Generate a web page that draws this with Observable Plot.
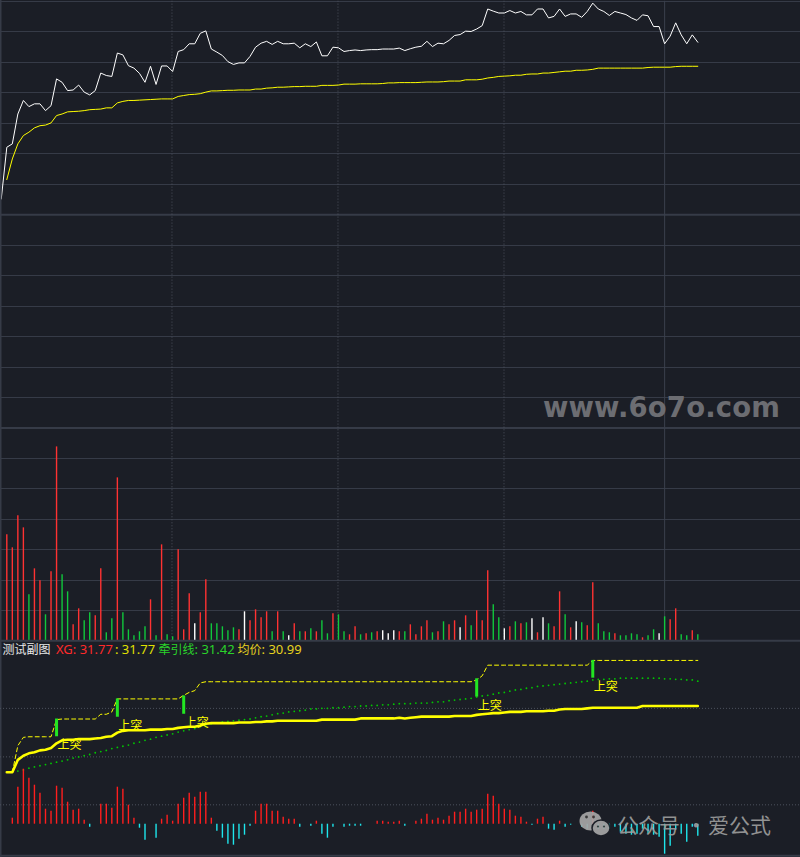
<!DOCTYPE html>
<html>
<head>
<meta charset="utf-8">
<script src="https://cdn.jsdelivr.net/npm/d3@7"></script>
<script src="https://cdn.jsdelivr.net/npm/@observablehq/plot@0.6"></script>
<style>
  html, body { margin:0; padding:0; background:#1b1e26; }
  #chart { position:relative; width:800px; height:857px; overflow:hidden; background:#1b1e26; }
  .hdr { position:absolute; top:640px; height:18px; font-size:13px; line-height:18px;
         font-family:"Noto Sans","Noto Sans CJK SC",sans-serif; white-space:pre; }
  .hdr .cjk { font-family:"Noto Sans CJK SC",sans-serif; font-size:12px; }
</style>
</head>
<body>
<div id="chart"></div>
<script>
// ---------------- data ----------------
const prevClose = 26.18;          // 昨收
const halfRange = 6.93;           // price scale half range
const openPrice = 26.69;          // first tick (before bar 0)

const closePrice = [28.37,28.48,29.45,29.89,29.69,29.78,29.78,29.56,29.72,30.59,
30.48,30.21,30.23,30.39,30.16,30.07,30.21,30.78,30.70,30.67,
31.43,31.37,31.02,30.94,30.77,30.48,31.00,30.41,31.01,31.01,
30.83,31.48,31.54,31.73,31.73,32.07,32.15,31.56,31.46,31.35,
31.15,31.06,31.11,31.11,31.32,31.62,31.75,31.81,31.71,31.81,
31.73,31.73,31.75,31.60,31.73,31.64,31.79,31.34,31.34,31.62,
31.60,31.48,31.51,31.53,31.51,31.53,31.54,31.54,31.56,31.56,
31.56,31.59,31.51,31.57,31.62,31.65,31.81,31.64,31.75,31.73,
31.84,32.00,32.03,32.14,32.13,32.21,32.32,32.86,32.79,32.73,
32.73,32.81,32.73,32.78,32.67,32.67,32.86,32.86,32.57,32.62,
32.86,32.62,32.70,32.70,32.59,32.78,33.05,32.86,32.78,32.65,
32.78,32.73,32.68,32.57,32.49,32.67,32.64,32.29,32.29,31.73,
31.98,32.41,32.02,31.73,32.02,31.78];

const avgPrice = [27.32,27.99,28.48,28.75,28.86,29.00,29.07,29.09,29.16,29.40,
29.45,29.52,29.53,29.54,29.56,29.59,29.60,29.61,29.65,29.65,
29.81,29.86,29.89,29.89,29.90,29.91,29.92,29.93,29.94,29.94,
29.94,30.02,30.05,30.08,30.09,30.11,30.16,30.20,30.20,30.21,
30.22,30.22,30.23,30.23,30.23,30.26,30.26,30.29,30.30,30.32,
30.32,30.33,30.34,30.34,30.35,30.35,30.35,30.38,30.38,30.38,
30.39,30.42,30.42,30.42,30.43,30.43,30.43,30.43,30.44,30.46,
30.46,30.47,30.47,30.47,30.47,30.48,30.49,30.49,30.49,30.50,
30.52,30.52,30.52,30.56,30.56,30.56,30.58,30.62,30.64,30.67,
30.68,30.69,30.71,30.71,30.74,30.75,30.75,30.78,30.78,30.80,
30.82,30.84,30.84,30.87,30.87,30.88,30.90,30.94,30.94,30.94,
30.94,30.94,30.94,30.94,30.94,30.94,30.96,30.97,30.97,30.97,
30.97,30.99,31.00,31.00,31.00,31.00];

const volume = [5300,4650,6250,5650,2300,3600,3000,1300,3450,9700,
3300,2450,800,1600,1000,1400,1250,3600,400,1100,
8150,1400,550,250,450,700,2050,250,4800,300,
200,4550,550,2350,850,1400,3050,850,850,700,
500,650,550,1450,1000,1550,1150,1450,450,1450,
450,250,850,450,450,600,450,1000,350,1350,
1300,450,300,700,300,350,400,450,500,350,
500,450,450,800,300,700,1000,400,450,950,
800,1000,650,1250,750,1500,1000,3500,1800,1150,
600,700,950,850,900,1100,400,1150,850,700,
2450,1300,650,950,900,750,2900,850,450,400,
350,250,250,350,300,150,250,550,350,1200,
1050,1600,300,250,500,300];
const volMax = 10640;
// R = up (red), G = down (green), W = unchanged (white)
const volDir = ("RRRRGRRGRR" + "GGRRGGRRGG" + "RGGGGGRGRG" + "GRRRWRRGGG" + "GGRWRRRRGR" +
                "GWRGRGRGGR" + "GGRRGRGRWW" + "WRGRRRRGRG" + "RRWRGRRRGG" + "WRGRGWRWGR" +
                "RGRWGRRGGG" + "RGGGGRGGWG" + "RRGGRG").split("");

// 测试副图 indicator
const indAvg = [29.87,29.87,30.08,30.15,30.19,30.21,30.24,30.25,30.28,30.36,
30.41,30.42,30.42,30.43,30.43,30.43,30.44,30.45,30.47,30.48,
30.54,30.57,30.58,30.58,30.58,30.58,30.59,30.59,30.59,30.60,
30.60,30.62,30.63,30.64,30.64,30.66,30.69,30.70,30.70,30.70,
30.70,30.70,30.71,30.71,30.71,30.72,30.72,30.73,30.73,30.74,
30.74,30.74,30.74,30.74,30.74,30.74,30.74,30.76,30.76,30.76,
30.76,30.76,30.76,30.76,30.78,30.78,30.78,30.78,30.78,30.78,
30.78,30.79,30.78,30.79,30.80,30.81,30.81,30.81,30.81,30.81,
30.81,30.82,30.82,30.82,30.82,30.84,30.85,30.86,30.87,30.87,
30.88,30.89,30.89,30.89,30.90,30.90,30.90,30.90,30.91,30.91,
30.93,30.94,30.94,30.94,30.94,30.95,30.96,30.96,30.96,30.96,
30.96,30.96,30.96,30.96,30.96,30.99,30.99,30.99,30.99,30.99,
30.99,30.99,30.99,30.99,30.99,30.99];

// dashed line, bars 1..125
const xgLine = [29.87,30.32,30.46,30.47,30.47,30.47,30.47,30.47,30.76,30.77,
30.77,30.77,30.77,30.77,30.77,30.77,30.85,30.85,30.89,31.11,
31.11,31.11,31.11,31.11,31.11,31.11,31.11,31.11,31.11,31.11,
31.11,31.17,31.22,31.25,31.38,31.40,31.40,31.40,31.40,31.40,
31.40,31.40,31.40,31.40,31.40,31.40,31.40,31.40,31.40,31.40,
31.40,31.40,31.40,31.40,31.40,31.40,31.40,31.40,31.40,31.40,
31.40,31.40,31.40,31.40,31.40,31.40,31.40,31.40,31.40,31.40,
31.40,31.40,31.40,31.40,31.40,31.40,31.40,31.40,31.40,31.40,
31.40,31.40,31.40,31.40,31.43,31.50,31.68,31.68,31.68,31.68,
31.68,31.68,31.68,31.68,31.68,31.68,31.68,31.68,31.68,31.68,
31.68,31.68,31.68,31.68,31.68,31.76,31.76,31.76,31.76,31.76,
31.76,31.76,31.76,31.76,31.76,31.76,31.76,31.76,31.76,31.76,
31.76,31.76,31.76,31.76,31.76];

// 牵引线, bars 2..125
const traction = [29.89,29.91,29.94,29.96,29.98,30.00,30.02,30.04,
30.06,30.08,30.11,30.13,30.15,30.17,30.20,30.22,30.24,30.27,
30.29,30.31,30.33,30.36,30.38,30.41,30.43,30.46,30.48,30.50,
30.52,30.55,30.57,30.59,30.61,30.64,30.67,30.69,30.70,30.72,
30.73,30.74,30.75,30.76,30.77,30.79,30.81,30.82,30.84,30.86,
30.87,30.89,30.90,30.91,30.92,30.94,30.94,30.95,30.95,30.96,
30.96,30.97,30.98,30.98,30.99,30.99,31.00,31.00,31.01,31.01,
31.02,31.03,31.03,31.03,31.04,31.04,31.04,31.05,31.06,31.06,
31.08,31.09,31.10,31.11,31.12,31.14,31.16,31.17,31.19,31.21,
31.22,31.24,31.26,31.27,31.29,31.30,31.32,31.33,31.34,31.35,
31.36,31.37,31.38,31.39,31.40,31.41,31.43,31.44,31.44,31.45,
31.45,31.46,31.46,31.46,31.46,31.46,31.46,31.46,31.46,31.45,
31.45,31.44,31.44,31.43,31.43,31.41];

// 上突 signals
const signalBar = [9, 20, 32, 85, 106];
const signalLow = [30.47, 30.80, 30.85, 31.14, 31.46];
const signalHigh = [30.77, 31.11, 31.16, 31.45, 31.76];

// histogram (own scale)
const hist = [0,0.06,0.37,0.55,0.46,0.39,0.31,0.15,0.13,0.38,
0.36,0.22,0.14,0.15,0.04,-0.03,0,0.20,0.20,0.16,
0.37,0.35,0.19,0.06,-0.04,-0.16,0,-0.14,0.05,0.09,
0.03,0.20,0.26,0.31,0.27,0.32,0.32,0.06,-0.07,-0.14,
-0.20,-0.21,-0.15,-0.11,-0.02,0.13,0.20,0.20,0.13,0.13,
0.07,0.05,0.05,-0.03,0,-0.02,0.03,-0.10,-0.14,-0.03,
0,-0.03,-0.02,-0.02,-0.02,0,0,0.03,0.03,0.02,
0.02,0.03,-0.02,0,0.03,0.05,0.10,0.04,0.06,0.04,
0.08,0.12,0.12,0.15,0.12,0.14,0.15,0.30,0.28,0.20,
0.15,0.14,0.08,0.07,0.02,-0.01,0.05,0.07,-0.05,-0.06,
0.03,-0.03,-0.01,0,-0.03,-0.05,0.13,-0.05,-0.05,-0.05,
-0.03,-0.08,-0.10,-0.11,-0.10,-0.05,-0.10,-0.11,-0.13,-0.30,
-0.22,-0.06,-0.10,-0.18,-0.03,-0.12];

const sessionLines = [29.88, 59.91, 89.94];   // dotted vertical separators (bar index)
const cursorBar = [119];                      // crosshair
const indGrid = [30.95, 30.13, 29.32];
const indLo = 28.46, indHi = 32.08;

// header legend: [CJK label, latin part, colour]
const header = [
  {cjk:"测试副图", txt:"", color:"#e8e8e8"},
  {cjk:"", txt:"XG: 31.77", color:"#ff2a2a"},
  {cjk:"", txt:": 31.77", color:"#e0e000"},
  {cjk:"牵引线", txt:": 31.42", color:"#2ad22a"},
  {cjk:"均价", txt:": 30.99", color:"#e6d21e"}
];

// ---------------- drawing ----------------
const GRID = "#363b47", DOTC = "#4d525d";
const chart = document.getElementById("chart");
const layerStyle = {position:"absolute", left:"0px", top:"0px", background:"transparent", overflow:"visible"};
function layer(y, marks) {
  const svg = Plot.plot({
    width: 800, height: 857, margin: 0,
    x: {domain: [0, 125], range: [6.3, 697.3], axis: null},
    y: {...y, axis: null},
    style: layerStyle,
    marks
  });
  chart.appendChild(svg);
}

const pLo = prevClose - halfRange, pHi = prevClose + halfRange;
const priceGrid = d3.range(-6, 8).filter(k => k !== 0).map(k => prevClose + k * halfRange / 7);
const pricePts = [{i: -1, p: openPrice}, ...closePrice.map((p, i) => ({i, p}))];
const avgPts = avgPrice.map((p, i) => ({i, p}));

// price panel
layer({domain: [pLo, pHi], range: [427.6, 0.8]}, [
  Plot.ruleY(priceGrid, {stroke: GRID, strokeWidth: 1, shapeRendering: "crispEdges"}),
  Plot.ruleY([prevClose, pLo], {stroke: GRID, strokeWidth: 2}),
  Plot.ruleX(sessionLines, {y1: pLo, y2: pHi, stroke: DOTC, strokeDasharray: "1,2"}),
  Plot.ruleX(cursorBar, {y1: pLo, y2: pHi, stroke: "#3b404d", strokeWidth: 1}),
  Plot.line(avgPts, {x: "i", y: "p", stroke: "#ffff00", strokeWidth: 1}),
  Plot.line(pricePts, {x: "i", y: "p", stroke: "#ffffff", strokeWidth: 1}),
  Plot.frame({anchor: "left", stroke: GRID, strokeWidth: 2})
]);

// volume panel
const volData = volume.map((v, i) => ({i, v, dir: volDir[i]}));
const volGrid = d3.range(1, 7).map(k => k * volMax / 7);
const volColor = {R: "#ff3232", G: "#10c83c", W: "#ffffff"};
layer({domain: [0, volMax], range: [640.3, 427.6]}, [
  Plot.ruleY(volGrid, {stroke: GRID, strokeWidth: 1, shapeRendering: "crispEdges"}),
  Plot.ruleX(sessionLines, {y1: 0, y2: volMax, stroke: DOTC, strokeDasharray: "1,2"}),
  Plot.ruleX(cursorBar, {y1: 0, y2: volMax, stroke: "#3b404d", strokeWidth: 1}),
  ...["R", "G", "W"].map(k => Plot.ruleX(volData.filter(d => d.dir === k),
      {x: "i", y1: 0, y2: "v", stroke: volColor[k], strokeWidth: 1.4})),
  Plot.ruleY([0], {stroke: GRID, strokeWidth: 2})
]);

// indicator panel
const indAvgPts = indAvg.map((v, i) => ({i, v}));
const xgPts = xgLine.map((v, k) => ({i: k + 1, v}));
const tracPts = traction.map((v, k) => ({i: k + 2, v}));
const signals = signalBar.map((i, k) => ({i, lo: signalLow[k], hi: signalHigh[k]}));
layer({domain: [indLo, indHi], range: [855.2, 641]}, [
  Plot.ruleY(indGrid, {stroke: DOTC, strokeDasharray: "1,2"}),
  Plot.ruleY([indLo], {stroke: GRID, strokeWidth: 2}),
  Plot.dot(tracPts, {x: "i", y: "v", r: 0.9, fill: "#00c800", stroke: null}),
  Plot.line(xgPts, {x: "i", y: "v", stroke: "#ffff00", strokeWidth: 1, strokeDasharray: "4,3"}),
  Plot.line(indAvgPts, {x: "i", y: "v", stroke: "#ffff00", strokeWidth: 2.6}),
  Plot.ruleX(signals, {x: "i", y1: "lo", y2: "hi", stroke: "#22e622", strokeWidth: 3}),
  Plot.text(signals, {x: "i", y: "lo", text: () => "上突", fill: "#ffff00", fontSize: 12,
    fontFamily: "Noto Sans CJK SC", textAnchor: "start", lineAnchor: "top", dx: 1, dy: 4})
]);

// histogram overlay
const histData = hist.map((v, i) => ({i, v})).filter(d => d.v !== 0);
layer({domain: [0, 1], range: [823.7, 723.7]}, [
  Plot.ruleX(histData.filter(d => d.v > 0), {x: "i", y1: 0, y2: "v", stroke: "#ff1e1e", strokeWidth: 1.4}),
  Plot.ruleX(histData.filter(d => d.v < 0), {x: "i", y1: 0, y2: "v", stroke: "#1ee6ec", strokeWidth: 1.4})
]);

// header legend
const hdrX = [2.5, 56, 115, 158.5, 237.5];
header.forEach((h, k) => {
  const s = document.createElement("div");
  s.className = "hdr";
  s.style.left = hdrX[k] + "px";
  s.style.color = h.color;
  if (h.cjk) { const c = document.createElement("span"); c.className = "cjk"; c.textContent = h.cjk; s.appendChild(c); }
  if (h.txt) s.appendChild(document.createTextNode(h.txt));
  chart.appendChild(s);
});

// watermarks
const ns = "http://www.w3.org/2000/svg";
const wm = document.createElementNS(ns, "svg");
wm.setAttribute("width", 800); wm.setAttribute("height", 857);
wm.style.cssText = "position:absolute;left:0;top:0;pointer-events:none";
wm.innerHTML = `
  <text x="543" y="417" font-family="DejaVu Sans" font-weight="bold" font-size="27.5" fill="#6c6d72" textLength="237">www.6o7o.com</text>
  <g opacity="0.92">
    <ellipse cx="590.5" cy="821" rx="11" ry="9.5" fill="#a6a6a6"/>
    <circle cx="586.5" cy="817" r="1.4" fill="#3a3a3a"/>
    <circle cx="593.5" cy="817" r="1.4" fill="#3a3a3a"/>
    <ellipse cx="601" cy="828" rx="9" ry="8" fill="#a6a6a6" stroke="#1b1e26" stroke-width="1.5"/>
    <circle cx="598" cy="826.5" r="1.1" fill="#3a3a3a"/>
    <circle cx="604" cy="826.5" r="1.1" fill="#3a3a3a"/>
    <text x="617" y="833" font-family="Noto Sans CJK SC" font-size="21" fill="#9c9c9c">公众号</text>
    <text x="696" y="833" font-family="Noto Sans CJK SC" font-size="21" fill="#9c9c9c" text-anchor="middle">·</text>
    <text x="708" y="833" font-family="Noto Sans CJK SC" font-size="21" fill="#9c9c9c">爱公式</text>
  </g>`;
chart.appendChild(wm);
</script>
</body>
</html>
